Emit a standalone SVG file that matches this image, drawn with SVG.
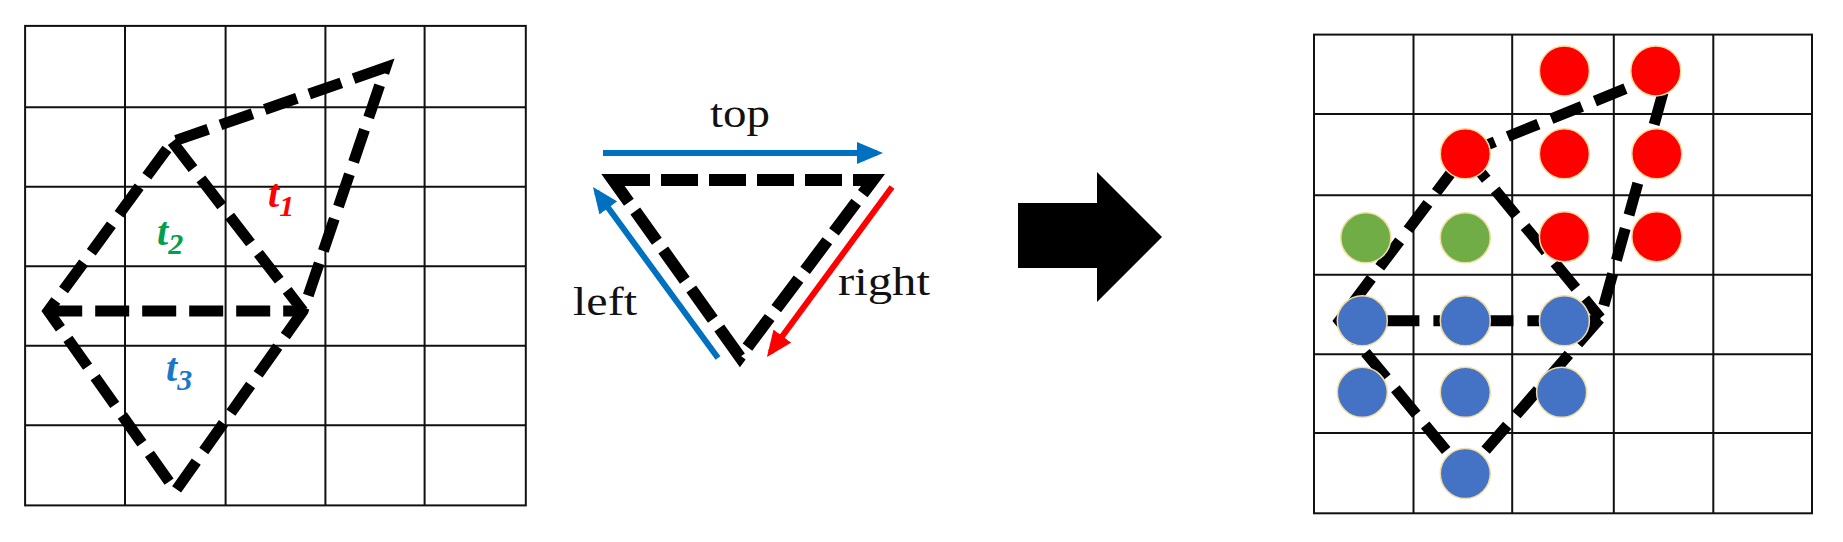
<svg xmlns="http://www.w3.org/2000/svg" width="1843" height="542" viewBox="0 0 1843 542">
<style>
.grid{fill:none;stroke:#111;stroke-width:2}
.dash{fill:none;stroke:#000;stroke-width:11;stroke-dasharray:34 13;stroke-linejoin:miter}
.dashM{fill:none;stroke:#000;stroke-width:12;stroke-dasharray:37 11;stroke-linejoin:miter}
.dashR{fill:none;stroke:#000;stroke-width:11;stroke-dasharray:33 14;stroke-linejoin:miter}
.lbl{font-family:"Liberation Serif","Times New Roman",serif;font-size:40px;fill:#111}
.tl{font-family:"Liberation Serif","Times New Roman",serif;font-style:italic;font-weight:bold}
.red{fill:#ff0000;stroke:#f3dca0;stroke-width:1.5}
.green{fill:#70ad47;stroke:#f3dca0;stroke-width:1.5}
.blue{fill:#4472c4;stroke:#f3dca0;stroke-width:1.5}
</style>
<defs>
<marker id="hb" markerUnits="userSpaceOnUse" markerWidth="26" markerHeight="22" viewBox="0 0 26 22" refX="20" refY="11" orient="auto"><path d="M0,0 L26,11 L0,22 z" fill="#0070c0"/></marker>
<marker id="hr" markerUnits="userSpaceOnUse" markerWidth="26" markerHeight="22" viewBox="0 0 26 22" refX="20" refY="11" orient="auto"><path d="M0,0 L26,11 L0,22 z" fill="#ff0000"/></marker>
</defs>
<rect width="1843" height="542" fill="#fff"/>

<g id="left-grid">
<rect class="grid" x="25.1" y="25.9" width="500.7" height="479.5"/>
<path class="grid" d="M125,25.9V505.4M225.6,25.9V505.4M325.4,25.9V505.4M424.6,25.9V505.4M25.1,107.2H525.8M25.1,186.7H525.8M25.1,266.2H525.8M25.1,345.7H525.8M25.1,425.2H525.8"/>
</g>
<g id="left-triangles">
<path class="dash" d="M385.7,67.4 L172.2,141.7 L48.2,311 L175.6,490.8 L303,311 Z"/>
<path class="dash" d="M172.2,141.7 L303,311"/>
<path class="dash" d="M48.2,311 L303,311"/>
</g>
<g id="left-labels">
<text class="tl" x="268" y="207" font-size="40" fill="#ff0000">t<tspan font-size="30" dy="9">1</tspan></text>
<text class="tl" x="157" y="245" font-size="40" fill="#00a050">t<tspan font-size="30" dy="9">2</tspan></text>
<text class="tl" x="166" y="381" font-size="40" fill="#1a78c8">t<tspan font-size="30" dy="9">3</tspan></text>
</g>

<g id="middle-triangle">
<path class="dashM" d="M613,180 L873,180 L740,357 Z"/>
</g>
<g id="connectors">
<line x1="603" y1="153" x2="877" y2="153" stroke="#0070c0" stroke-width="6" marker-end="url(#hb)"/>
<line x1="718" y1="358" x2="596.5" y2="191.8" stroke="#0070c0" stroke-width="6" marker-end="url(#hb)"/>
<line x1="892" y1="187" x2="770.5" y2="352.2" stroke="#ff0000" stroke-width="6" marker-end="url(#hr)"/>
</g>
<g id="middle-labels">
<text class="lbl" x="740" y="127" text-anchor="middle" textLength="60" lengthAdjust="spacingAndGlyphs">top</text>
<text class="lbl" x="573" y="315" textLength="64" lengthAdjust="spacingAndGlyphs">left</text>
<text class="lbl" x="838" y="295" textLength="92" lengthAdjust="spacingAndGlyphs">right</text>
</g>

<g id="big-arrow">
<polygon points="1018,203 1097,203 1097,172 1162,237 1097,302 1097,268 1018,268" fill="#000"/>
</g>

<g id="right-grid">
<rect class="grid" x="1314" y="34.6" width="498" height="478.7"/>
<path class="grid" d="M1413.5,34.6V513.3M1512.2,34.6V513.3M1613.8,34.6V513.3M1713.3,34.6V513.3M1314,114.1H1812M1314,195.3H1812M1314,274.8H1812M1314,354.3H1812M1314,433.1H1812"/>
</g>
<g id="right-triangles">
<path class="dashR" d="M1669,70.9 L1465.3,153.8 L1339.4,320.8 L1465.3,473.6 L1600.4,318 Z"/>
<path class="dashR" d="M1465.3,153.8 L1600.4,318"/>
<path class="dashR" d="M1339.4,320.8 L1600.4,320.8"/>
</g>
<g id="right-points">
<circle class="red" cx="1564.4" cy="70.9" r="25"/>
<circle class="red" cx="1655.8" cy="70.9" r="25"/>
<circle class="red" cx="1465.3" cy="153.8" r="25"/>
<circle class="red" cx="1564.4" cy="153.8" r="25"/>
<circle class="red" cx="1656.8" cy="153.8" r="25"/>
<circle class="red" cx="1564.4" cy="236.8" r="25"/>
<circle class="red" cx="1656.8" cy="236.8" r="25"/>
<circle class="green" cx="1365.8" cy="237.8" r="25"/>
<circle class="green" cx="1465.3" cy="237.8" r="25"/>
<circle class="blue" cx="1362.3" cy="320.8" r="25"/>
<circle class="blue" cx="1465.3" cy="320.8" r="25"/>
<circle class="blue" cx="1564.4" cy="320.8" r="25"/>
<circle class="blue" cx="1362.3" cy="392.3" r="25"/>
<circle class="blue" cx="1465.3" cy="392.3" r="25"/>
<circle class="blue" cx="1561.6" cy="392.3" r="25"/>
<circle class="blue" cx="1465.3" cy="473.6" r="25"/>
</g>
</svg>
